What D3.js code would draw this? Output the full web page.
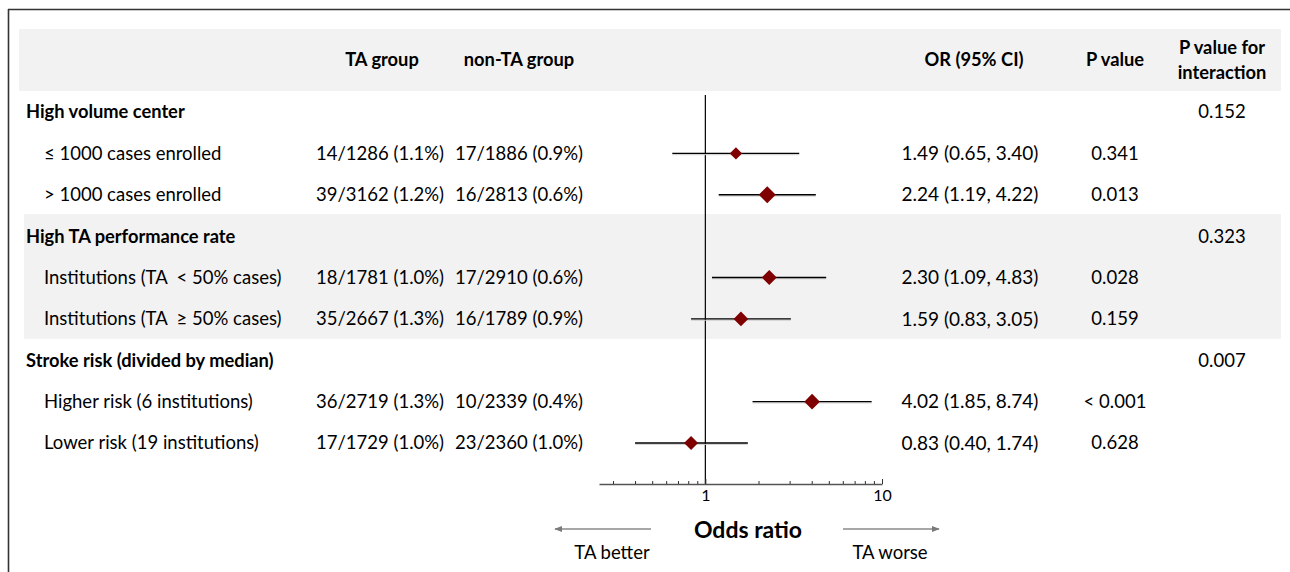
<!DOCTYPE html>
<html><head><meta charset="utf-8">
<script src="https://cdn.jsdelivr.net/npm/d3@7/dist/d3.min.js"></script>
<style>
html,body{margin:0;padding:0;background:#fff;}
svg text{font-family:Lato,"Open Sans",sans-serif;fill:#000;}
</style></head>
<body><svg id="c" width="1290" height="572"></svg>
<script>
// ---- data ----
const groups = ["High volume center", "High TA performance rate", "Stroke risk (divided by median)"];
const pInteraction = ["0.152", "0.323", "0.007"];
const subgroups = ["≤ 1000 cases enrolled", "> 1000 cases enrolled",
  "Institutions (TA  < 50% cases)", "Institutions (TA  ≥ 50% cases)",
  "Higher risk (6 institutions)", "Lower risk (19 institutions)"];
const subgroupGroup = [0, 0, 1, 1, 2, 2];
const taEvents = [14, 39, 18, 35, 36, 17];
const taTotal = [1286, 3162, 1781, 2667, 2719, 1729];
const taPct = ["1.1", "1.2", "1.0", "1.3", "1.3", "1.0"];
const nonEvents = [17, 16, 17, 16, 10, 23];
const nonTotal = [1886, 2813, 2910, 1789, 2339, 2360];
const nonPct = ["0.9", "0.6", "0.6", "0.9", "0.4", "1.0"];
const oddsRatio = [1.49, 2.24, 2.30, 1.59, 4.02, 0.83];
const ciLow = [0.65, 1.19, 1.09, 0.83, 1.85, 0.40];
const ciHigh = [3.40, 4.22, 4.83, 3.05, 8.74, 1.74];
const pValue = ["0.341", "0.013", "0.028", "0.159", "< 0.001", "0.628"];
const orText = ["1.49 (0.65, 3.40)", "2.24 (1.19, 4.22)", "2.30 (1.09, 4.83)", "1.59 (0.83, 3.05)", "4.02 (1.85, 8.74)", "0.83 (0.40, 1.74)"];
const axisDomain = [0.25, 10];
const axisLabels = [1, 10];

// ---- build rows ----
const rows = [];
groups.forEach((g, gi) => {
  rows.push({type: "group", label: g, pint: pInteraction[gi], gi});
  subgroups.forEach((s, i) => {
    if (subgroupGroup[i] === gi) rows.push({type: "sub", label: s, i, gi});
  });
});

const svg = d3.select("#c");
const y = d3.scalePoint().domain(d3.range(rows.length)).range([112, 443]);
const x = d3.scaleLog().domain(axisDomain).range([599, 882]);
const size = d3.scaleSqrt().domain([0, d3.max(taTotal.map((t, i) => t + nonTotal[i]))]).range([0, 8.5]);

const col = {label: 26, sub: 44, ta: 380, non: 519, or: 970, p: 1115, pint: 1222};
const fs = 18.5, fsb = 18.3, fsor = 19;

// frame
svg.append("line").attr("x1", 8).attr("x2", 1290).attr("y1", 9.5).attr("y2", 9.5).attr("stroke", "#333").attr("stroke-width", 1.6);
svg.append("line").attr("x1", 8.5).attr("x2", 8.5).attr("y1", 9).attr("y2", 572).attr("stroke", "#333").attr("stroke-width", 1.6);

// bands
svg.append("rect").attr("x", 19).attr("y", 29).attr("width", 1262).attr("height", 62).attr("fill", "#f2f2f2");
groups.forEach((g, gi) => {
  if (gi !== 1) return;
  const idx = rows.map((r, k) => r.gi === gi ? k : -1).filter(k => k >= 0);
  const y0 = y(idx[0]) - 22, y1 = y(idx[idx.length - 1]) + 20;
  svg.append("rect").attr("x", 24).attr("y", y0).attr("width", 1257).attr("height", y1 - y0).attr("fill", "#f2f2f2");
});

// header
const hdr = svg.append("g").style("font-weight", "bold").style("font-size", fsb + "px");
[["TA group", col.ta + 2], ["non-TA group", col.non], ["OR (95% CI)", col.or + 4], ["P value", col.p]].forEach(([t, cx]) => {
  hdr.append("text").attr("x", cx).attr("y", 60).attr("dy", "0.35em").attr("text-anchor", "middle").text(t);
});
hdr.append("text").attr("x", col.pint).attr("y", 48).attr("dy", "0.35em").attr("text-anchor", "middle").text("P value for");
hdr.append("text").attr("x", col.pint).attr("y", 73).attr("dy", "0.35em").attr("text-anchor", "middle").text("interaction");

// reference line at OR=1
svg.append("line").attr("x1", x(1)).attr("x2", x(1)).attr("y1", 95).attr("y2", 484).attr("stroke", "#000").attr("stroke-width", 1.2);

// rows
const rg = svg.append("g").style("font-size", fs + "px");
rows.forEach((r, k) => {
  const yy = y(k);
  if (r.type === "group") {
    rg.append("text").attr("x", col.label).attr("y", yy).attr("dy", "0.35em").style("font-weight", "bold").style("font-size", fsb + "px").text(r.label);
    rg.append("text").attr("x", col.pint).attr("y", yy).attr("dy", "0.35em").attr("text-anchor", "middle").text(r.pint);
  } else {
    const i = r.i;
    rg.append("text").attr("x", col.sub).attr("y", yy).attr("dy", "0.35em").style("white-space", "pre").attr("xml:space", "preserve").text(r.label);
    rg.append("text").attr("x", col.ta).attr("y", yy).attr("dy", "0.35em").attr("text-anchor", "middle").text(`${taEvents[i]}/${taTotal[i]} (${taPct[i]}%)`);
    rg.append("text").attr("x", col.non).attr("y", yy).attr("dy", "0.35em").attr("text-anchor", "middle").text(`${nonEvents[i]}/${nonTotal[i]} (${nonPct[i]}%)`);
    rg.append("text").attr("x", col.or).attr("y", yy).attr("dy", "0.35em").attr("text-anchor", "middle").style("font-size", fsor + "px").text(orText[i]);
    rg.append("text").attr("x", col.p).attr("y", yy).attr("dy", "0.35em").attr("text-anchor", "middle").text(pValue[i]);
    // CI line
    svg.append("line").attr("x1", x(ciLow[i])).attr("x2", x(ciHigh[i])).attr("y1", yy + 1.3).attr("y2", yy + 1.3).attr("stroke", "#ccc").attr("stroke-width", 1);
    svg.append("line").attr("x1", x(ciLow[i])).attr("x2", x(ciHigh[i])).attr("y1", yy).attr("y2", yy).attr("stroke", "#000").attr("stroke-width", 1.3);
    const s = size(taTotal[i] + nonTotal[i]);
    const cx = x(oddsRatio[i]);
    svg.append("path").attr("d", `M${cx},${yy - s}L${cx + s},${yy}L${cx},${yy + s}L${cx - s},${yy}Z`).attr("fill", "#7f0000");
  }
});

// axis
const ax = svg.append("g").attr("transform", "translate(0,484)")
  .call(d3.axisBottom(x).tickValues(x.ticks()).tickSize(-3).tickSizeOuter(0).tickPadding(6)
    .tickFormat(d => axisLabels.includes(d) ? d3.format("d")(d) : ""));
ax.select(".domain").attr("stroke", "#555").attr("stroke-width", 1.6);
ax.selectAll(".tick line").attr("stroke", "#333").attr("y2", d => axisLabels.includes(d) ? -5 : -3);
ax.selectAll(".tick text").style("font-family", "Lato, sans-serif").style("font-size", "16px").attr("fill", "#000");

// axis title & arrows
svg.append("text").attr("x", 748).attr("y", 530).attr("dy", "0.35em").attr("text-anchor", "middle")
  .style("font-weight", "bold").style("font-size", "23px").text("Odds ratio");
const defs = svg.append("defs");
defs.append("marker").attr("id", "ah").attr("viewBox", "0 0 10 10").attr("refX", 9).attr("refY", 5)
  .attr("markerWidth", 8).attr("markerHeight", 8).attr("markerUnits", "userSpaceOnUse").attr("orient", "auto")
  .append("path").attr("d", "M0,1L10,5L0,9Z").attr("fill", "#7a7a7a");
svg.append("line").attr("x1", 651).attr("x2", 555).attr("y1", 529).attr("y2", 529).attr("stroke", "#8a8a8a").attr("stroke-width", 1.3).attr("marker-end", "url(#ah)");
svg.append("line").attr("x1", 843).attr("x2", 939).attr("y1", 529).attr("y2", 529).attr("stroke", "#8a8a8a").attr("stroke-width", 1.3).attr("marker-end", "url(#ah)");
svg.append("text").attr("x", 612).attr("y", 553).attr("dy", "0.35em").attr("text-anchor", "middle").style("font-size", fs + "px").text("TA better");
svg.append("text").attr("x", 890).attr("y", 553).attr("dy", "0.35em").attr("text-anchor", "middle").style("font-size", fs + "px").text("TA worse");
</script></body></html>
